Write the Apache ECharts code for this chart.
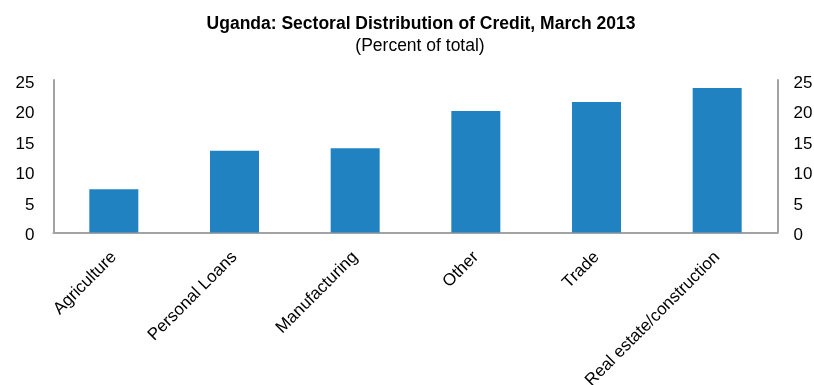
<!DOCTYPE html>
<html>
<head>
<meta charset="utf-8">
<script src="https://cdn.jsdelivr.net/npm/echarts@6/dist/echarts.min.js"></script>
<style>
  html, body { margin: 0; padding: 0; background: #ffffff; }
  #chart { width: 814px; height: 385px; }
</style>
</head>
<body>
<div id="chart"></div>
<script>
// Sectoral distribution of credit, percent of total
const categories = ['Agriculture', 'Personal Loans', 'Manufacturing', 'Other', 'Trade', 'Real estate/construction'];
const shares = [7.1, 13.4, 13.8, 19.9, 21.4, 23.7];
const yTicks = [0, 5, 10, 15, 20, 25];

const FONT = '"Liberation Sans", Arial, sans-serif';
const axisGray = '#a3a3a3';

const chart = echarts.init(document.getElementById('chart'), null, { renderer: 'canvas' });

function valueAxis(position, margin) {
  return {
    type: 'value',
    position: position,
    min: yTicks[0],
    max: yTicks[yTicks.length - 1],
    interval: yTicks[1] - yTicks[0],
    axisLine: { show: true, lineStyle: { color: axisGray, width: 2 } },
    axisTick: { show: false },
    splitLine: { show: false },
    axisLabel: {
      margin: margin,
      formatter: '{t|{value}}',
      rich: {
        t: {
          color: '#000000',
          fontFamily: FONT,
          fontSize: 17,
          padding: [6, 0, 0, 0]
        }
      }
    }
  };
}

chart.setOption({
  animation: false,
  backgroundColor: '#ffffff',
  title: [
    {
      text: 'Uganda: Sectoral Distribution of Credit, March 2013',
      left: 416,
      top: 10,
      textAlign: 'center',
      textStyle: { fontFamily: FONT, fontSize: 17.5, fontWeight: 'bold', color: '#000000' }
    },
    {
      text: '(Percent of total)',
      left: 415,
      top: 32,
      textAlign: 'center',
      textStyle: { fontFamily: FONT, fontSize: 17.5, fontWeight: 'normal', color: '#000000' }
    }
  ],
  grid: {
    left: 53.5, right: 36.5, top: 80, bottom: 152.5,
    containLabel: false,
    outerBoundsMode: 'none'
  },
  xAxis: {
    type: 'category',
    data: categories,
    axisLine: { show: true, lineStyle: { color: axisGray, width: 2 } },
    axisTick: { show: false },
    axisLabel: {
      interval: 0,
      rotate: 45,
      margin: 22,
      color: '#000000',
      fontFamily: FONT,
      fontSize: 17
    }
  },
  yAxis: [valueAxis('left', 19), valueAxis('right', 16)],
  series: [
    {
      type: 'bar',
      data: shares,
      barWidth: 49,
      itemStyle: { color: '#2182c1' }
    }
  ]
});
</script>
</body>
</html>
